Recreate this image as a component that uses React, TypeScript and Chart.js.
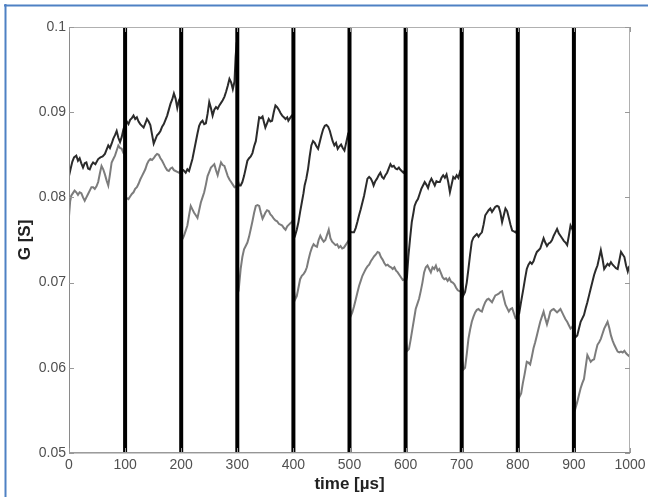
import React, { useEffect, useRef } from "react";
import { Chart, registerables } from "chart.js";

Chart.register(...registerables);

// Conductance G [S] vs time [µs] — upper (dark) trace
const darkSeries: [number, number][] = [
  [0, 0.0825], [3, 0.0834], [6, 0.0842], [9, 0.0847], [13, 0.0849], [16, 0.0843], [19, 0.0846], [22, 0.084], [25, 0.0835], [28, 0.084], [31, 0.0841], [34, 0.0834], [37, 0.0833], [40, 0.0838], [43, 0.0841], [47, 0.0839], [52, 0.0845], [56, 0.0847], [60, 0.0848], [64, 0.0851], [67, 0.0856], [70, 0.0861], [73, 0.0858], [76, 0.0863], [79, 0.0869], [82, 0.0873], [85, 0.0878], [88, 0.087], [91, 0.0865], [94, 0.0871], [97, 0.088], [100, 0.0885],
  [103, 0.0889], [106, 0.0886], [109, 0.0891], [112, 0.0893], [115, 0.0896], [118, 0.0892], [121, 0.0894], [124, 0.0889], [127, 0.0886], [130, 0.0884], [133, 0.0882], [136, 0.0887], [139, 0.0892], [142, 0.0889], [145, 0.0885], [148, 0.0874], [151, 0.0863], [154, 0.0868], [157, 0.0873], [160, 0.0875], [163, 0.0878], [166, 0.0883], [169, 0.0886], [172, 0.0891], [175, 0.0896], [178, 0.0903], [181, 0.091], [184, 0.0915], [187, 0.0922], [190, 0.0916], [193, 0.0905], [196, 0.0914], [199, 0.0918],
  [201, 0.0831], [204, 0.0832], [208, 0.0829], [211, 0.0833], [214, 0.0831], [217, 0.0838], [220, 0.0845], [223, 0.0855], [226, 0.0865], [229, 0.0875], [232, 0.0884], [235, 0.0888], [238, 0.089], [241, 0.0886], [244, 0.0887], [247, 0.0898], [250, 0.0912], [253, 0.0905], [256, 0.0896], [259, 0.0903], [262, 0.0906], [265, 0.0904], [268, 0.0908], [271, 0.0911], [274, 0.0914], [277, 0.0918], [280, 0.0924], [283, 0.0931], [286, 0.0939], [289, 0.0935], [292, 0.0927], [295, 0.0936], [297, 0.0965], [299, 0.0982],
  [301, 0.082], [303, 0.0814], [306, 0.0814], [309, 0.0818], [312, 0.0825], [315, 0.0834], [318, 0.0843], [321, 0.0846], [324, 0.0848], [327, 0.0852], [330, 0.086], [333, 0.0866], [336, 0.088], [339, 0.0894], [342, 0.0893], [345, 0.0895], [348, 0.0887], [350, 0.0882], [353, 0.0887], [356, 0.0892], [359, 0.0889], [362, 0.089], [365, 0.09], [368, 0.0908], [371, 0.0906], [374, 0.0903], [377, 0.0899], [380, 0.0896], [383, 0.0894], [386, 0.0892], [389, 0.0894], [391, 0.089], [394, 0.0893], [397, 0.0896], [399, 0.0895],
  [401, 0.0752], [403, 0.0755], [406, 0.0762], [409, 0.0771], [412, 0.0783], [415, 0.0794], [418, 0.0805], [420, 0.0814], [423, 0.0822], [426, 0.0833], [429, 0.0848], [432, 0.0861], [435, 0.0866], [438, 0.0864], [441, 0.086], [444, 0.0857], [447, 0.0865], [450, 0.0873], [453, 0.088], [456, 0.0884], [459, 0.0885], [462, 0.0883], [465, 0.0878], [467, 0.0873], [470, 0.0866], [473, 0.0861], [476, 0.0864], [479, 0.0857], [482, 0.086], [485, 0.0862], [488, 0.0858], [491, 0.0855], [494, 0.0864], [497, 0.0873], [499, 0.087],
  [501, 0.076], [504, 0.0759], [508, 0.0759], [511, 0.0764], [514, 0.0771], [517, 0.0779], [520, 0.0786], [523, 0.0794], [526, 0.0802], [529, 0.0812], [532, 0.0822], [535, 0.0824], [538, 0.0822], [541, 0.0818], [543, 0.0814], [546, 0.0819], [549, 0.0822], [552, 0.0826], [555, 0.0829], [558, 0.0824], [561, 0.0822], [564, 0.0826], [567, 0.0829], [570, 0.0834], [573, 0.0839], [576, 0.0836], [579, 0.0837], [582, 0.0834], [585, 0.0833], [588, 0.0835], [590, 0.0833], [593, 0.0831], [596, 0.0829], [599, 0.0832],
  [601, 0.072], [603, 0.0712], [605, 0.0731], [608, 0.0752], [611, 0.0771], [614, 0.0782], [616, 0.079], [619, 0.0795], [622, 0.0798], [625, 0.0804], [628, 0.081], [631, 0.0814], [634, 0.0818], [637, 0.0815], [640, 0.0811], [643, 0.0818], [646, 0.0822], [649, 0.0818], [652, 0.0814], [655, 0.0819], [658, 0.0818], [661, 0.0818], [664, 0.0823], [667, 0.0826], [670, 0.0823], [673, 0.0827], [676, 0.0818], [679, 0.0806], [682, 0.0815], [685, 0.0824], [688, 0.0822], [691, 0.0826], [694, 0.0823], [697, 0.083], [699, 0.0828],
  [701, 0.07], [703, 0.0685], [706, 0.0689], [709, 0.07], [712, 0.0716], [715, 0.0733], [718, 0.0748], [721, 0.0753], [724, 0.0755], [727, 0.0757], [730, 0.0754], [733, 0.0757], [736, 0.0759], [739, 0.0768], [742, 0.0779], [745, 0.0782], [748, 0.0785], [751, 0.0787], [754, 0.0783], [757, 0.0786], [760, 0.0789], [763, 0.079], [766, 0.0789], [769, 0.0782], [772, 0.0771], [775, 0.0779], [778, 0.0787], [781, 0.0784], [784, 0.0776], [787, 0.0768], [790, 0.0761], [793, 0.076], [796, 0.0759], [799, 0.0762],
  [801, 0.067], [803, 0.0666], [806, 0.0678], [810, 0.0693], [813, 0.0705], [816, 0.0716], [819, 0.0721], [822, 0.0724], [825, 0.0722], [828, 0.0725], [831, 0.0731], [834, 0.0736], [837, 0.0738], [840, 0.074], [843, 0.0746], [846, 0.0752], [849, 0.0747], [852, 0.0743], [855, 0.0746], [858, 0.0747], [861, 0.075], [864, 0.0755], [867, 0.0759], [870, 0.0763], [873, 0.0758], [876, 0.0755], [879, 0.0752], [882, 0.0749], [885, 0.0747], [888, 0.0744], [891, 0.0755], [894, 0.0767], [897, 0.0763], [899, 0.076],
  [901, 0.064], [903, 0.0636], [906, 0.0638], [909, 0.0646], [912, 0.0654], [915, 0.0658], [918, 0.0662], [921, 0.067], [924, 0.0677], [927, 0.0685], [930, 0.0693], [933, 0.0701], [936, 0.0709], [939, 0.0715], [942, 0.072], [945, 0.0729], [948, 0.0738], [951, 0.0728], [954, 0.0716], [957, 0.0719], [960, 0.0722], [963, 0.072], [966, 0.0724], [969, 0.0721], [972, 0.0719], [975, 0.0717], [978, 0.0716], [981, 0.0726], [984, 0.0736], [987, 0.0733], [990, 0.073], [993, 0.072], [996, 0.0713], [998, 0.0718], [1000, 0.072],
];

// lower (gray) trace
const graySeries: [number, number][] = [
  [0, 0.0778], [2, 0.0795], [4, 0.0802], [7, 0.0805], [10, 0.0808], [13, 0.0806], [16, 0.0803], [19, 0.0806], [22, 0.0805], [25, 0.08], [28, 0.0796], [31, 0.08], [34, 0.0804], [37, 0.0808], [40, 0.0812], [43, 0.0812], [46, 0.081], [49, 0.0813], [52, 0.0818], [55, 0.0828], [58, 0.0837], [61, 0.0833], [64, 0.0827], [67, 0.082], [70, 0.0814], [73, 0.0827], [76, 0.0841], [79, 0.0845], [82, 0.0849], [85, 0.0855], [88, 0.0861], [91, 0.0858], [94, 0.0857], [97, 0.0852], [99, 0.085],
  [101, 0.08], [103, 0.0799], [106, 0.0798], [109, 0.0801], [112, 0.0804], [115, 0.0806], [118, 0.081], [121, 0.0812], [124, 0.0816], [127, 0.0821], [130, 0.0825], [133, 0.0829], [136, 0.0833], [139, 0.0839], [142, 0.0843], [145, 0.0845], [148, 0.0844], [151, 0.0846], [154, 0.0849], [157, 0.0851], [160, 0.085], [163, 0.0846], [166, 0.0843], [169, 0.0839], [172, 0.0835], [175, 0.0832], [178, 0.0831], [181, 0.0834], [184, 0.0835], [187, 0.0832], [190, 0.0831], [193, 0.083], [196, 0.0829], [199, 0.0832],
  [201, 0.075], [203, 0.0752], [205, 0.0755], [208, 0.0761], [211, 0.0767], [214, 0.0779], [217, 0.079], [220, 0.0786], [223, 0.0782], [226, 0.0779], [229, 0.0776], [232, 0.0785], [235, 0.0794], [238, 0.08], [241, 0.0806], [244, 0.0815], [247, 0.0825], [250, 0.083], [253, 0.0835], [256, 0.0837], [259, 0.0839], [262, 0.0832], [265, 0.0826], [268, 0.0834], [271, 0.0841], [274, 0.0838], [277, 0.0837], [280, 0.0831], [283, 0.0825], [286, 0.0821], [289, 0.0818], [292, 0.0815], [295, 0.0812], [298, 0.0813], [299, 0.0814],
  [301, 0.07], [303, 0.0695], [306, 0.0716], [309, 0.073], [312, 0.0739], [315, 0.0743], [318, 0.0747], [321, 0.0754], [324, 0.0763], [327, 0.0772], [330, 0.0782], [333, 0.079], [336, 0.0791], [339, 0.079], [342, 0.0782], [345, 0.0775], [348, 0.0779], [350, 0.0782], [353, 0.0785], [356, 0.0784], [359, 0.078], [362, 0.0778], [365, 0.0775], [368, 0.0773], [371, 0.0772], [374, 0.0769], [377, 0.0768], [380, 0.0767], [383, 0.0764], [386, 0.0762], [389, 0.0766], [392, 0.0768], [395, 0.077], [397, 0.0771], [399, 0.0773],
  [401, 0.069], [403, 0.068], [406, 0.0684], [409, 0.0694], [412, 0.0704], [415, 0.0708], [418, 0.071], [421, 0.0713], [424, 0.0718], [427, 0.0727], [430, 0.0735], [433, 0.0741], [436, 0.0745], [439, 0.0743], [442, 0.0742], [445, 0.075], [448, 0.0755], [451, 0.0751], [454, 0.0748], [457, 0.075], [460, 0.0756], [463, 0.0762], [466, 0.0752], [469, 0.0748], [472, 0.0746], [475, 0.0744], [478, 0.0745], [481, 0.0741], [484, 0.0743], [487, 0.074], [490, 0.0741], [493, 0.0744], [496, 0.0747], [499, 0.075],
  [501, 0.067], [503, 0.0662], [505, 0.0665], [508, 0.0672], [511, 0.068], [514, 0.0688], [517, 0.0696], [520, 0.0702], [523, 0.0708], [526, 0.0712], [529, 0.0716], [532, 0.0719], [535, 0.0721], [538, 0.0725], [541, 0.0728], [544, 0.0731], [547, 0.0733], [550, 0.0736], [553, 0.0735], [556, 0.073], [559, 0.0727], [562, 0.0723], [565, 0.072], [568, 0.0721], [571, 0.0719], [574, 0.0718], [577, 0.0716], [580, 0.0718], [583, 0.0714], [586, 0.0712], [589, 0.0709], [592, 0.0706], [595, 0.0703], [599, 0.0704],
  [601, 0.063], [603, 0.062], [606, 0.0622], [609, 0.0633], [612, 0.0645], [615, 0.0657], [618, 0.0669], [621, 0.0675], [624, 0.0681], [627, 0.069], [630, 0.07], [633, 0.0712], [636, 0.0718], [639, 0.072], [642, 0.0716], [645, 0.0712], [648, 0.0718], [651, 0.0716], [654, 0.072], [657, 0.0714], [660, 0.0716], [663, 0.0711], [666, 0.0706], [669, 0.0704], [672, 0.0705], [675, 0.0702], [678, 0.0705], [681, 0.0701], [684, 0.07], [687, 0.0698], [690, 0.0694], [693, 0.0691], [696, 0.069], [699, 0.0689],
  [701, 0.061], [703, 0.0598], [706, 0.06], [709, 0.0616], [712, 0.0634], [715, 0.0645], [718, 0.0654], [721, 0.066], [724, 0.0665], [727, 0.0668], [730, 0.0669], [733, 0.0667], [736, 0.0666], [739, 0.0672], [742, 0.0677], [745, 0.068], [748, 0.0681], [751, 0.0679], [754, 0.0677], [757, 0.0681], [760, 0.0685], [763, 0.0686], [766, 0.0687], [769, 0.0689], [772, 0.069], [775, 0.0682], [778, 0.0674], [781, 0.067], [784, 0.0666], [787, 0.0669], [790, 0.067], [793, 0.0664], [796, 0.0658], [799, 0.0657],
  [801, 0.0575], [803, 0.0566], [806, 0.057], [809, 0.0582], [812, 0.0592], [816, 0.0607], [819, 0.0606], [822, 0.0604], [825, 0.0613], [828, 0.0623], [831, 0.063], [834, 0.0638], [837, 0.0646], [840, 0.0654], [843, 0.066], [846, 0.0666], [849, 0.0658], [852, 0.0651], [855, 0.0658], [858, 0.0666], [861, 0.0668], [864, 0.0669], [867, 0.0667], [870, 0.0665], [873, 0.0667], [876, 0.0669], [879, 0.0665], [882, 0.0661], [885, 0.0657], [888, 0.0654], [891, 0.065], [894, 0.0646], [897, 0.0648], [899, 0.065],
  [901, 0.056], [903, 0.0553], [906, 0.056], [909, 0.0568], [912, 0.0576], [915, 0.0582], [918, 0.0587], [921, 0.0601], [924, 0.0615], [927, 0.0611], [930, 0.0607], [933, 0.0609], [936, 0.061], [939, 0.0619], [942, 0.0627], [945, 0.063], [948, 0.0634], [951, 0.064], [954, 0.0646], [957, 0.065], [960, 0.0654], [963, 0.0647], [966, 0.0638], [969, 0.0632], [972, 0.0627], [975, 0.0623], [978, 0.0619], [981, 0.0618], [984, 0.0619], [987, 0.0618], [990, 0.062], [993, 0.0617], [996, 0.0615], [998, 0.0614], [1000, 0.0615],
];

// pulse instants (thick vertical black lines)
const pulseTimes = [100, 200, 300, 400, 500, 600, 700, 800, 900];

// axis ranges / ticks
const xRange = [0, 1000];
const xStep = 100;
const yRange = [0.05, 0.1];
const yStep = 0.01;
const xTitle = "time [µs]";
const yTitle = "G [S]";

const FONT = "'Liberation Sans', Arial, Helvetica, sans-serif";

const framePlugin = {
  id: "frame",
  beforeDraw(chart: any) {
    const { ctx, width, height } = chart;
    ctx.save();
    ctx.fillStyle = "#ffffff";
    ctx.fillRect(0, 0, width, height);
    ctx.strokeStyle = "#4f81c4";
    ctx.lineWidth = 2;
    ctx.beginPath();
    ctx.moveTo(4, 5.5);
    ctx.lineTo(width, 5.5);
    ctx.moveTo(5.5, 4);
    ctx.lineTo(5.5, height);
    ctx.stroke();
    ctx.restore();
  },
  afterDatasetsDraw(chart: any) {
    const { ctx, chartArea: a, scales } = chart;
    ctx.save();
    ctx.strokeStyle = "#b0b0b0";
    ctx.lineWidth = 1;
    ctx.strokeRect(a.left + 0.5, a.top + 0.5, a.right - a.left - 1, a.bottom - a.top - 1);
    ctx.strokeStyle = "#8a8a8a";
    ctx.beginPath();
    ctx.moveTo(a.left + 0.5, a.top);
    ctx.lineTo(a.left + 0.5, a.bottom);
    ctx.lineTo(a.right, a.bottom - 0.5);
    ctx.stroke();
    ctx.strokeStyle = "#999999";
    ctx.beginPath();
    const tl = 5;
    for (const t of scales.x.ticks) {
      const px = Math.round(scales.x.getPixelForValue(t.value)) + 0.5;
      ctx.moveTo(px, a.bottom);
      ctx.lineTo(px, a.bottom - tl);
      ctx.moveTo(px, a.top);
      ctx.lineTo(px, a.top + tl);
    }
    for (const t of scales.y.ticks) {
      const py = Math.round(scales.y.getPixelForValue(t.value)) + 0.5;
      ctx.moveTo(a.left, py);
      ctx.lineTo(a.left + tl, py);
      ctx.moveTo(a.right, py);
      ctx.lineTo(a.right - tl, py);
    }
    ctx.stroke();
    ctx.restore();
  },
};

export default function App() {
  const ref = useRef<HTMLCanvasElement>(null);

  useEffect(() => {
    document.body.style.margin = "0";
    const pulseSets = pulseTimes.map((t) => ({
      label: "pulse " + t,
      data: [
        { x: t, y: yRange[0] },
        { x: t, y: yRange[1] },
      ],
      borderColor: "#000000",
      borderWidth: 4,
      pointRadius: 0,
      order: 0,
    }));
    const chart = new Chart(ref.current as HTMLCanvasElement, {
      type: "line",
      data: {
        datasets: [
          ...pulseSets,
          {
            label: "upper",
            data: darkSeries.map(([x, y]) => ({ x, y })),
            borderColor: "#2b2b2b",
            borderWidth: 2,
            pointRadius: 0,
            tension: 0,
            order: 1,
          },
          {
            label: "lower",
            data: graySeries.map(([x, y]) => ({ x, y })),
            borderColor: "#7c7c7c",
            borderWidth: 2,
            pointRadius: 0,
            tension: 0,
            order: 2,
          },
        ] as any,
      },
      options: {
        responsive: false,
        animation: false,
        devicePixelRatio: 1,
        layout: { padding: { left: 0, right: 18, top: 27, bottom: 0 } },
        plugins: { legend: { display: false }, tooltip: { enabled: false } },
        scales: {
          x: {
            type: "linear",
            min: xRange[0],
            max: xRange[1],
            grid: { display: false, drawTicks: false },
            border: { display: false },
            ticks: {
              stepSize: xStep,
              maxRotation: 0,
              autoSkip: false,
              padding: 4,
              color: "#505050",
              font: { family: FONT, size: 14 },
              callback: (v: any) => String(Math.round(Number(v))),
            },
            title: {
              display: true,
              text: xTitle,
              color: "#222",
              font: { family: FONT, size: 17, weight: "bold" },
              padding: { top: 0, bottom: 2 },
            },
            afterFit: (s: any) => {
              s.height = 44;
              s.paddingLeft = 0;
              s.paddingRight = 0;
            },
          },
          y: {
            type: "linear",
            min: yRange[0],
            max: yRange[1],
            grid: { display: false, drawTicks: false },
            border: { display: false },
            ticks: {
              stepSize: yStep,
              padding: 3,
              color: "#505050",
              font: { family: FONT, size: 14 },
              callback: (v: any) => String(Number(Number(v).toFixed(2))),
            },
            title: {
              display: true,
              text: yTitle,
              color: "#222",
              font: { family: FONT, size: 17, weight: "bold" },
              padding: { top: 15, bottom: 0 },
            },
            afterFit: (s: any) => {
              s.width = 69;
              s.paddingTop = 0;
              s.paddingBottom = 0;
            },
          },
        },
      } as any,
      plugins: [framePlugin],
    });
    return () => chart.destroy();
  }, []);

  return (
    <div style={{ position: "absolute", left: 0, top: 0, width: 648, height: 497, background: "#fff" }}>
      <canvas ref={ref} width={648} height={497} style={{ display: "block" }} />
    </div>
  );
}
